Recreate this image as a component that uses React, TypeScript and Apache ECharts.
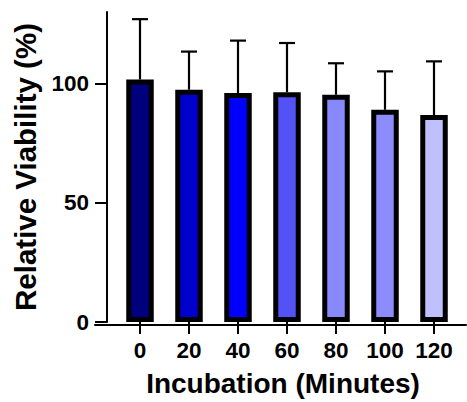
import React, { useEffect, useRef } from "react";
import * as echarts from "echarts";

const categories = ["0", "20", "40", "60", "80", "100", "120"];
const means = [101.7, 97.4, 96, 96.3, 95.3, 89, 86.8];
const errors = [25.3, 16, 22, 20.7, 13.2, 16.1, 22.5];
const barColors = ["#00007f", "#0000cc", "#0000ff", "#5252f5", "#8888ff", "#8c8cff", "#c0c0ff"];
const yTicks = [0, 50, 100];

const FONT = "'Liberation Sans', Arial, sans-serif";

export default function App() {
  const ref = useRef<HTMLDivElement>(null);
  useEffect(() => {
    if (!ref.current) return;
    const chart = echarts.init(ref.current, null, { renderer: "svg" });
    chart.setOption({
      animation: false,
      backgroundColor: "#ffffff",
      grid: [
        { left: 115.5, right: 8.5, top: 12, bottom: 77 },
        { left: 95, right: 1, top: 12, bottom: 77 },
      ],
      xAxis: [
        {
          type: "category",
          gridIndex: 0,
          data: categories,
          axisLine: { show: false },
          axisTick: { show: true, interval: 0, alignWithLabel: true, length: 12, lineStyle: { color: "#000", width: 2 } },
          axisLabel: {
            interval: 0,
            hideOverlap: false,
            margin: 17,
            color: "#000",
            fontFamily: FONT,
            fontWeight: "bold",
            fontSize: 22.5,
          },
          name: "Incubation (Minutes)",
          nameLocation: "middle",
          nameGap: 47,
          nameTextStyle: {
            color: "#000",
            fontFamily: FONT,
            fontWeight: "bold",
            fontSize: 28,
            padding: [0, 8, 0, 0],
          },
        },
        {
          type: "value",
          gridIndex: 1,
          min: 0,
          max: 1,
          axisLine: { show: true, onZero: false, lineStyle: { color: "#000", width: 2 } },
          axisTick: { show: false },
          axisLabel: { show: false },
          splitLine: { show: false },
        },
      ],
      yAxis: [
        {
          type: "value",
          gridIndex: 0,
          min: 0,
          max: 130,
          offset: 8.5,
          axisLine: { show: true, lineStyle: { color: "#000", width: 2 } },
          axisTick: { show: true, length: 12, customValues: yTicks, lineStyle: { color: "#000", width: 2 } },
          axisLabel: {
            customValues: yTicks,
            margin: 18,
            color: "#000",
            fontFamily: FONT,
            fontWeight: "bold",
            fontSize: 22.5,
          },
          splitLine: { show: false },
          name: "Relative Viability (%)",
          nameLocation: "middle",
          nameGap: 67,
          nameTextStyle: {
            color: "#000",
            fontFamily: FONT,
            fontWeight: "bold",
            fontSize: 29.5,
          },
        },
        {
          type: "value",
          gridIndex: 1,
          show: false,
          min: 0,
          max: 1,
        },
      ],
      series: [
        {
          type: "bar",
          xAxisIndex: 0,
          yAxisIndex: 0,
          barWidth: 27.5,
          data: means.map((m, i) => ({
            value: m,
            itemStyle: { color: barColors[i], borderColor: "#000", borderWidth: 5 },
          })),
          z: 2,
        },
        {
          type: "custom",
          xAxisIndex: 0,
          yAxisIndex: 0,
          z: 3,
          data: means.map((m, i) => [i, m, errors[i]]),
          encode: { x: 0, y: 1 },
          renderItem: (params: any, api: any) => {
            const i = api.value(0);
            const m = api.value(1);
            const e = api.value(2);
            const base = api.coord([i, m]);
            const top = api.coord([i, m + e]);
            const half = 8;
            return {
              type: "group",
              children: [
                {
                  type: "line",
                  shape: { x1: base[0], y1: base[1], x2: top[0], y2: top[1] },
                  style: { stroke: "#000", lineWidth: 2.2 },
                },
                {
                  type: "line",
                  shape: { x1: top[0] - half, y1: top[1], x2: top[0] + half, y2: top[1] },
                  style: { stroke: "#000", lineWidth: 2.2 },
                },
              ],
            };
          },
        },
      ],
    });
    return () => chart.dispose();
  }, []);
  return (
    <div
      ref={ref}
      style={{ position: "fixed", left: 0, top: 0, width: 467, height: 402 }}
    />
  );
}
